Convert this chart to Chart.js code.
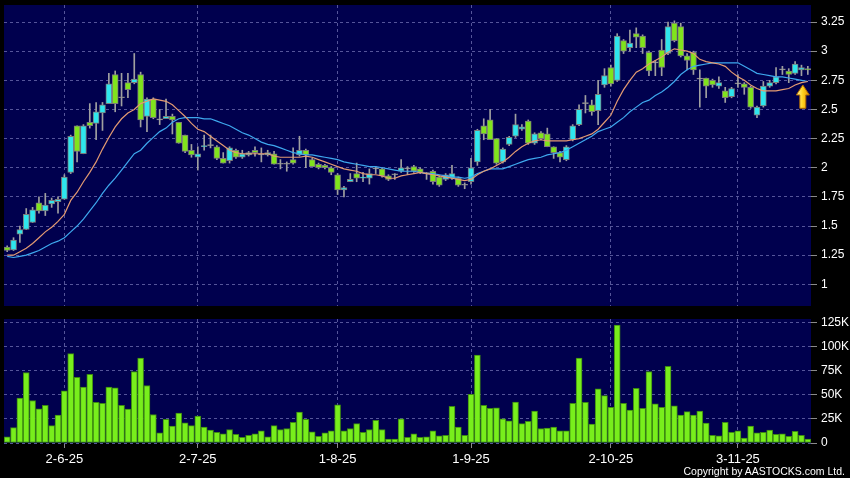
<!DOCTYPE html>
<html>
<head>
<meta charset="utf-8">
<script src="https://cdn.jsdelivr.net/npm/chart.js@4.4.1/dist/chart.umd.min.js"></script>
<style>
  html, body { margin: 0; padding: 0; background: #000; }
  #wrap { position: relative; width: 850px; height: 478px; background: #000; overflow: hidden; }
  #price { position: absolute; left: 0; top: 0; }
  #vol { position: absolute; left: 0; top: 310px; }
  #copy { position: absolute; right: 5px; top: 465px; font: 10.5px/12px "Liberation Sans", Arial, sans-serif; color: #fff; }
</style>
</head>
<body>
<div id="wrap">
  <canvas id="price" width="850" height="310"></canvas>
  <canvas id="vol" width="850" height="168"></canvas>
  <div id="copy">Copyright by AASTOCKS.com Ltd.</div>
</div>
<script>
// trading days per month (2025), used for the category labels
var tradingDays = [
  [5, [20, 21, 22, 23, 26, 27, 28, 29, 30]],
  [6, [2, 3, 4, 5, 6, 9, 10, 11, 12, 13, 16, 17, 18, 19, 20, 23, 24, 25, 26, 27, 30]],
  [7, [2, 3, 4, 7, 8, 9, 10, 11, 14, 15, 16, 17, 18, 21, 22, 23, 24, 25, 28, 29, 30, 31]],
  [8, [1, 4, 5, 6, 7, 8, 11, 12, 13, 14, 15, 18, 19, 20, 21, 22, 25, 26, 27, 28, 29]],
  [9, [1, 2, 3, 4, 5, 8, 9, 10, 11, 12, 15, 16, 17, 18, 19, 22, 23, 24, 25, 26, 29, 30]],
  [10, [2, 3, 6, 8, 9, 10, 13, 14, 15, 16, 17, 20, 21, 22, 23, 24, 27, 28, 30, 31]],
  [11, [3, 4, 5, 6, 7, 10, 11, 12, 13, 14, 17, 18]]
];

var opens = [
  1.32, 1.295, 1.43, 1.47, 1.53, 1.70, 1.63, 1.69, 1.71, 1.73,
  1.96, 2.36, 2.12, 2.39, 2.38, 2.47, 2.55, 2.80, 2.60, 2.73,
  2.73, 2.80, 2.44, 2.59, 2.41, 2.42, 2.44, 2.39, 2.28, 2.15,
  2.09, 2.18, 2.19, 2.18, 2.08, 2.06, 2.15, 2.09, 2.11, 2.15,
  2.11, 2.11, 2.12, 2.03, 2.03, 2.07, 2.11, 2.15, 2.07, 2.03,
  2.02, 2.00, 1.94, 1.81, 1.88, 1.95, 1.91, 1.91, 1.99, 1.99,
  1.93, 1.94, 1.97, 1.99, 2.01, 1.99, 1.95, 1.97, 1.92, 1.90,
  1.91, 1.91, 1.85, 1.88, 2.05, 2.36, 2.41, 2.25, 2.05, 2.20,
  2.27, 2.33, 2.40, 2.21, 2.30, 2.29, 2.18, 2.13, 2.07, 2.24,
  2.37, 2.55, 2.54, 2.49, 2.71, 2.86, 2.75, 3.09, 3.03, 3.15,
  3.13, 2.99, 2.90, 3.01, 2.98, 3.24, 3.21, 2.96, 2.99, 2.76,
  2.77, 2.75, 2.70, 2.66, 2.61, 2.72, 2.72, 2.69, 2.45, 2.53,
  2.70, 2.73, 2.84, 2.83, 2.81, 2.84, 2.85
];
var highs = [
  1.33, 1.40, 1.50, 1.65, 1.66, 1.75, 1.78, 1.74, 1.75, 1.94,
  2.28, 2.36, 2.37, 2.55, 2.56, 2.56, 2.81, 2.83, 2.81, 2.81,
  2.98, 2.82, 2.60, 2.60, 2.50, 2.59, 2.46, 2.39, 2.28, 2.20,
  2.18, 2.28, 2.28, 2.19, 2.13, 2.18, 2.16, 2.15, 2.14, 2.18,
  2.17, 2.15, 2.14, 2.07, 2.05, 2.17, 2.27, 2.16, 2.08, 2.04,
  2.03, 2.01, 1.95, 1.84, 1.95, 2.04, 1.96, 1.99, 2.01, 2.00,
  1.94, 1.95, 2.07, 2.01, 2.02, 2.00, 1.96, 1.98, 1.93, 1.95,
  2.02, 1.92, 1.87, 2.08, 2.33, 2.42, 2.50, 2.25, 2.17, 2.27,
  2.46, 2.37, 2.41, 2.30, 2.31, 2.34, 2.18, 2.14, 2.19, 2.37,
  2.54, 2.62, 2.58, 2.75, 2.85, 2.88, 3.15, 3.10, 3.18, 3.20,
  3.14, 3.00, 2.92, 3.10, 3.25, 3.26, 3.24, 2.98, 3.00, 2.84,
  2.77, 2.76, 2.78, 2.69, 2.69, 2.80, 2.73, 2.70, 2.53, 2.74,
  2.75, 2.86, 2.87, 2.85, 2.91, 2.88, 2.87
];
var lows = [
  1.28, 1.29, 1.36, 1.47, 1.53, 1.61, 1.59, 1.66, 1.61, 1.73,
  1.95, 2.05, 2.12, 2.34, 2.24, 2.32, 2.55, 2.48, 2.53, 2.60,
  2.72, 2.35, 2.31, 2.42, 2.37, 2.42, 2.29, 2.21, 2.13, 2.09,
  1.98, 2.15, 2.17, 2.07, 2.04, 2.04, 2.08, 2.08, 2.10, 2.10,
  2.05, 2.10, 2.03, 1.99, 1.97, 2.03, 2.10, 2.00, 2.01, 1.99,
  1.99, 1.94, 1.77, 1.75, 1.88, 1.88, 1.88, 1.86, 1.95, 1.92,
  1.89, 1.90, 1.96, 1.94, 1.96, 1.95, 1.90, 1.86, 1.84, 1.89,
  1.90, 1.84, 1.82, 1.86, 2.02, 2.24, 2.24, 2.03, 2.04, 2.19,
  2.26, 2.32, 2.20, 2.20, 2.24, 2.18, 2.08, 2.05, 2.06, 2.23,
  2.36, 2.47, 2.45, 2.37, 2.69, 2.70, 2.74, 2.98, 3.00, 3.03,
  2.98, 2.79, 2.79, 2.79, 2.97, 3.08, 2.95, 2.84, 2.80, 2.52,
  2.60, 2.69, 2.68, 2.56, 2.60, 2.69, 2.63, 2.51, 2.43, 2.52,
  2.69, 2.72, 2.80, 2.73, 2.80, 2.79, 2.80
];
var closes = [
  1.29, 1.38, 1.47, 1.60, 1.64, 1.63, 1.68, 1.72, 1.73, 1.92,
  2.27, 2.14, 2.36, 2.36, 2.48, 2.54, 2.72, 2.55, 2.60, 2.67,
  2.76, 2.41, 2.59, 2.43, 2.41, 2.44, 2.41, 2.21, 2.14, 2.11,
  2.12, 2.19, 2.19, 2.08, 2.04, 2.17, 2.09, 2.12, 2.13, 2.13,
  2.11, 2.13, 2.03, 2.03, 2.03, 2.04, 2.15, 2.11, 2.01, 2.00,
  2.00, 1.96, 1.81, 1.83, 1.90, 1.91, 1.92, 1.95, 1.99, 1.93,
  1.90, 1.94, 2.00, 1.99, 1.97, 1.96, 1.95, 1.88, 1.85, 1.94,
  1.95, 1.85, 1.85, 2.00, 2.32, 2.29, 2.24, 2.04, 2.16, 2.26,
  2.37, 2.35, 2.21, 2.29, 2.25, 2.18, 2.13, 2.09, 2.18, 2.36,
  2.50, 2.55, 2.48, 2.63, 2.79, 2.72, 3.13, 3.00, 3.07, 3.12,
  3.03, 2.83, 2.90, 2.86, 3.21, 3.09, 2.96, 2.92, 2.84, 2.76,
  2.70, 2.71, 2.73, 2.60, 2.68, 2.72, 2.69, 2.52, 2.52, 2.70,
  2.73, 2.78, 2.84, 2.80, 2.89, 2.86, 2.84
];
// moving averages (orange = 10 day, blue = 20 day)
var ma10 = [
  1.25, 1.25, 1.28, 1.31, 1.35, 1.40, 1.45, 1.49, 1.54, 1.60,
  1.72, 1.79, 1.88, 1.96, 2.05, 2.16, 2.26, 2.35, 2.42, 2.47,
  2.50, 2.55, 2.57, 2.59, 2.58, 2.57, 2.54, 2.49, 2.44, 2.38,
  2.33, 2.31, 2.27, 2.23, 2.19, 2.15, 2.13, 2.12, 2.12, 2.12,
  2.12, 2.12, 2.10, 2.09, 2.09, 2.09, 2.09, 2.10, 2.09, 2.07,
  2.05, 2.03, 2.01, 1.99, 1.98, 1.97, 1.95, 1.94, 1.94, 1.93,
  1.91, 1.91, 1.93, 1.94, 1.95, 1.96, 1.95, 1.94, 1.93, 1.92,
  1.91, 1.90, 1.89, 1.90, 1.94, 1.97, 1.99, 2.02, 2.05, 2.09,
  2.14, 2.18, 2.21, 2.23, 2.24, 2.23, 2.23, 2.23, 2.23, 2.24,
  2.25, 2.27, 2.29, 2.33, 2.39, 2.45, 2.57, 2.67, 2.75, 2.82,
  2.85, 2.89, 2.92, 2.95, 2.99, 3.02, 3.01, 3.00, 2.98, 2.93,
  2.91, 2.90, 2.89, 2.87, 2.82, 2.78, 2.75, 2.71, 2.68, 2.66,
  2.66, 2.66, 2.67, 2.68, 2.71, 2.73, 2.74
];
var ma20 = [
  1.24, 1.23, 1.24, 1.25, 1.27, 1.29, 1.32, 1.35, 1.37, 1.40,
  1.45, 1.50, 1.56, 1.63, 1.70, 1.78, 1.85, 1.91, 1.98, 2.05,
  2.12, 2.15, 2.21, 2.26, 2.31, 2.34, 2.39, 2.42, 2.43, 2.43,
  2.43, 2.42, 2.42, 2.40, 2.38, 2.36, 2.33, 2.30, 2.28, 2.25,
  2.22, 2.20, 2.19, 2.17, 2.15, 2.13, 2.12, 2.11, 2.11, 2.10,
  2.09, 2.08, 2.07, 2.05, 2.04, 2.03, 2.02, 2.01, 2.01, 2.00,
  1.99, 1.98, 1.97, 1.97, 1.97, 1.96, 1.95, 1.95, 1.94, 1.93,
  1.92, 1.92, 1.91, 1.92, 1.95, 1.97, 1.99, 1.99, 1.99, 2.01,
  2.03, 2.05, 2.07, 2.08, 2.09, 2.11, 2.12, 2.13, 2.15, 2.18,
  2.21, 2.24, 2.27, 2.31, 2.33, 2.35, 2.39, 2.43, 2.48, 2.52,
  2.56, 2.58, 2.62, 2.65, 2.69, 2.74, 2.80, 2.84, 2.87, 2.88,
  2.89, 2.90, 2.90, 2.90, 2.90, 2.90, 2.87, 2.84, 2.81, 2.80,
  2.79, 2.78, 2.78, 2.77, 2.76, 2.75, 2.74
];
// volume in thousands of shares
var volumeK = [
  6.5, 16, 46.5, 73, 44, 35.5, 39, 18, 29, 54,
  92.5, 68, 58, 71, 42, 41, 58, 57, 39, 35,
  74, 88, 59.5, 29.5, 10.5, 24.5, 17.5, 31, 21, 18,
  28, 16.5, 13.5, 11, 9.5, 14, 9, 6, 8, 9.5,
  12.5, 6.5, 18, 14, 15, 21.5, 32, 24.5, 11.5, 7,
  10.5, 12.5, 39.5, 12.5, 15, 20, 11, 14, 23.5, 14,
  4, 4, 25, 6, 9.5, 6, 6.5, 12.5, 7.5, 8,
  38, 16.5, 8, 50.5, 91, 39, 36, 36.5, 25, 23,
  42.5, 20, 22.5, 33, 15, 15.5, 16.5, 12.5, 12.5, 41,
  88, 42, 19.5, 56, 49, 37, 122, 41, 34, 56.5,
  36, 74, 40.5, 37, 79.5, 38.5, 29, 32.5, 29, 33,
  20.5, 8, 7.5, 21.5, 11, 12.5, 5, 17.5, 10.5, 11,
  13.5, 9, 9.5, 7, 12, 8, 4
];
var priceTicks = [1, 1.25, 1.5, 1.75, 2, 2.25, 2.5, 2.75, 3, 3.25];
var volumeTicks = [0, 25, 50, 75, 100, 125];

var dates = [];
var monthStarts = [];
tradingDays.forEach(function (m) {
  monthStarts.push(dates.length);
  m[1].forEach(function (d) { dates.push(d + '-' + m[0] + '-25'); });
});
monthStarts.shift(); // first label shown is June

var UP = '#2ee6ee', DOWN = '#80e41c', DOJI = '#a8a8a8';
var GRID = '#55559a';
var FONT = '"Liberation Sans", Arial, sans-serif';

Chart.defaults.font.family = FONT;

var plotBackground = {
  id: 'plotBackground',
  beforeDraw: function (chart) {
    var a = chart.chartArea, ctx = chart.ctx;
    ctx.save();
    ctx.fillStyle = '#00004e';
    ctx.fillRect(a.left, a.top, a.right - a.left, a.bottom - a.top);
    ctx.restore();
  }
};

var signalArrow = {
  id: 'signalArrow',
  afterDatasetsDraw: function (chart) {
    var ctx = chart.ctx, x = chart.scales.x, y = chart.scales.y;
    var cx = x.getPixelForValue(dates.length - 1) - 5;
    var top = y.getPixelForValue(2.71), bot = y.getPixelForValue(2.51);
    var g = ctx.createLinearGradient(cx - 6, 0, cx + 6, 0);
    g.addColorStop(0, '#fff59a');
    g.addColorStop(0.5, '#ffd21e');
    g.addColorStop(1, '#e89400');
    ctx.save();
    ctx.beginPath();
    ctx.moveTo(cx, top);
    ctx.lineTo(cx + 6.5, top + 10);
    ctx.lineTo(cx + 3, top + 10);
    ctx.lineTo(cx + 3, bot);
    ctx.lineTo(cx - 3, bot);
    ctx.lineTo(cx - 3, top + 10);
    ctx.lineTo(cx - 6.5, top + 10);
    ctx.closePath();
    ctx.fillStyle = g;
    ctx.fill();
    ctx.strokeStyle = '#b06a00';
    ctx.lineWidth = 1;
    ctx.stroke();
    ctx.restore();
  }
};

function candleColor(ctx) {
  var i = ctx.dataIndex;
  if (closes[i] > opens[i]) return UP;
  if (closes[i] < opens[i]) return DOWN;
  return DOJI;
}

function noPadding(axis) {
  axis.paddingTop = 0;
  axis.paddingBottom = 0;
  axis.paddingLeft = 0;
  axis.paddingRight = 0;
}

new Chart(document.getElementById('price'), {
  type: 'bar',
  data: {
    labels: dates,
    datasets: [
      {
        type: 'line', label: 'MA10', data: ma10,
        borderColor: '#e39a72', borderWidth: 1.2, pointRadius: 0, tension: 0, order: 0
      },
      {
        type: 'line', label: 'MA20', data: ma20,
        borderColor: '#3ea8ee', borderWidth: 1.2, pointRadius: 0, tension: 0, order: 0
      },
      {
        label: 'body',
        data: opens.map(function (o, i) { return [o, closes[i]]; }),
        grouped: false, barThickness: 6, minBarLength: 1,
        backgroundColor: candleColor, borderColor: '#7a7a7a', borderWidth: 1, borderSkipped: false,
        order: 1
      },
      {
        label: 'wick',
        data: lows.map(function (l, i) { return [l, highs[i]]; }),
        grouped: false, barThickness: 1, backgroundColor: '#a0a0a0', order: 2
      }
    ]
  },
  options: {
    responsive: false,
    animation: false,
    layout: { padding: { left: 4, top: 5, right: 0, bottom: 4 } },
    plugins: { legend: { display: false }, tooltip: { enabled: false } },
    scales: {
      x: {
        offset: true,
        grid: { color: GRID, offset: false, drawTicks: false, borderDash: [3, 3] },
        border: { display: false, dash: [3, 3] },
        ticks: { display: false, autoSkip: false },
        afterBuildTicks: function (axis) { axis.ticks = monthStarts.map(function (v) { return { value: v }; }); },
        afterFit: function (axis) { axis.height = 0; noPadding(axis); }
      },
      y: {
        position: 'right',
        min: 0.814, max: 3.396,
        grid: { color: GRID, tickColor: '#8a8a8a', tickLength: 6, borderDash: [3, 3] },
        border: { display: false, dash: [3, 3] },
        ticks: {
          color: '#ffffff', padding: 4, font: { size: 12 },
          callback: function (v) { return String(v); }
        },
        afterBuildTicks: function (axis) { axis.ticks = priceTicks.map(function (v) { return { value: v }; }); },
        afterFit: function (axis) { axis.width = 39; noPadding(axis); }
      }
    }
  },
  plugins: [plotBackground, signalArrow]
});

new Chart(document.getElementById('vol'), {
  type: 'bar',
  data: {
    labels: dates,
    datasets: [{
      label: 'Volume', data: volumeK,
      barThickness: 6, backgroundColor: '#78ee1c', borderColor: '#3d8a12', borderWidth: 1, borderSkipped: false
    }]
  },
  options: {
    responsive: false,
    animation: false,
    layout: { padding: { left: 4, top: 9, right: 0, bottom: 0 } },
    plugins: { legend: { display: false }, tooltip: { enabled: false } },
    scales: {
      x: {
        offset: true,
        grid: { color: GRID, offset: false, tickColor: '#8a8a8a', tickLength: 5, borderDash: [3, 3] },
        border: { display: false, dash: [3, 3] },
        ticks: { color: '#ffffff', autoSkip: false, maxRotation: 0, padding: 4, font: { size: 13 } },
        afterBuildTicks: function (axis) { axis.ticks = monthStarts.map(function (v) { return { value: v }; }); },
        afterFit: function (axis) { axis.height = 35; noPadding(axis); }
      },
      y: {
        position: 'right',
        min: 0, max: 128.4,
        grid: { color: GRID, tickColor: '#8a8a8a', tickLength: 6, borderDash: [3, 3] },
        border: { display: false, dash: [3, 3] },
        ticks: {
          color: '#ffffff', padding: 4, font: { size: 12 },
          callback: function (v) { return v === 0 ? '0' : v + 'K'; }
        },
        afterBuildTicks: function (axis) { axis.ticks = volumeTicks.map(function (v) { return { value: v }; }); },
        afterFit: function (axis) { axis.width = 39; noPadding(axis); }
      }
    }
  },
  plugins: [plotBackground]
});
</script>
</body>
</html>
